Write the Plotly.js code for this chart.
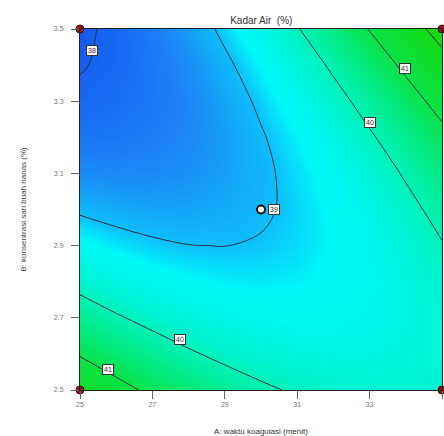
<!DOCTYPE html>
<html>
<head>
<meta charset="utf-8">
<script src="https://cdn.plot.ly/plotly-3.0.1.min.js"></script>
<style>html,body{margin:0;padding:0;background:#fff;}#chart{width:444px;height:436px;}</style>
</head>
<body>
<div id="chart"></div>
<script>
// A: waktu koagulasi (menit)
var waktu = [25, 26, 27, 28, 29, 30, 31, 32, 33, 34, 35];
// B: konsentrasi sari buah nanas (%)
var konsentrasi = [2.5, 2.6, 2.7, 2.8, 2.9, 3.0, 3.1, 3.2, 3.3, 3.4, 3.5];
// Kadar Air (%) estimated from the reference surface, rows = konsentrasi, cols = waktu
var kadarAir = [
  [41.625, 41.219, 40.863, 40.556, 40.299, 40.091, 39.933, 39.825, 39.766, 39.757, 39.797],
  [40.949, 40.605, 40.310, 40.065, 39.869, 39.723, 39.627, 39.580, 39.582, 39.635, 39.737],
  [40.343, 40.060, 39.827, 39.643, 39.509, 39.424, 39.389, 39.404, 39.468, 39.582, 39.745],
  [39.805, 39.584, 39.412, 39.290, 39.217, 39.194, 39.221, 39.297, 39.422, 39.598, 39.823],
  [39.337, 39.177, 39.066, 39.006, 38.995, 39.033, 39.121, 39.259, 39.446, 39.683, 39.969],
  [38.936, 38.838, 38.789, 38.790, 38.840, 38.940, 39.090, 39.289, 39.538, 39.836, 40.184],
  [38.604, 38.568, 38.580, 38.643, 38.755, 38.916, 39.127, 39.388, 39.698, 40.058, 40.468],
  [38.342, 38.366, 38.441, 38.565, 38.738, 38.961, 39.234, 39.556, 39.928, 40.349, 40.820],
  [38.147, 38.233, 38.369, 38.555, 38.789, 39.074, 39.408, 39.792, 40.225, 40.708, 41.241],
  [37.946, 38.169, 38.367, 38.613, 38.910, 39.256, 39.652, 40.097, 40.592, 41.136, 41.730],
  [37.880, 38.140, 38.433, 38.742, 39.099, 39.507, 39.964, 40.471, 41.028, 41.633, 42.289]
];
// design points
var cornerA = [25, 25, 35, 35];
var cornerB = [2.5, 3.5, 2.5, 3.5];
var centerA = [30];
var centerB = [3.0];
// contour label values
var labelText = ['38', '39', '40', '41', '40', '41'];
var xTicks = [25, 27, 29, 31, 33, 35];
var yTicks = [2.5, 2.7, 2.9, 3.1, 3.3, 3.5];

var zmin = 37.88, zmax = 42.29;
function s(v) { return (v - zmin) / (zmax - zmin); }
var heat = {
  type: 'heatmap', x: waktu, y: konsentrasi, z: kadarAir,
  zsmooth: 'best', zmin: zmin, zmax: zmax, showscale: false, hoverinfo: 'skip',
  colorscale: [
    [0, 'rgb(20,88,238)'],
    [s(38.5), 'rgb(28,128,246)'],
    [s(39.0), 'rgb(15,190,250)'],
    [s(39.25), 'rgb(0,248,250)'],
    [s(39.8), 'rgb(0,244,208)'],
    [s(40.2), 'rgb(0,238,160)'],
    [s(41.0), 'rgb(10,226,70)'],
    [1, 'rgb(22,215,10)']
  ]
};
var cont = {
  type: 'contour', x: waktu, y: konsentrasi, z: kadarAir,
  showscale: false, hoverinfo: 'skip',
  contours: {coloring: 'none', start: 38, end: 42, size: 1, showlabels: false},
  line: {color: '#1f3340', width: 1, smoothing: 1}
};
var corners = {
  type: 'scatter', mode: 'markers', x: cornerA, y: cornerB, cliponaxis: false,
  marker: {size: 8, color: '#8b1a1a', line: {color: '#4a0a0a', width: 1}}, hoverinfo: 'skip'
};
var center = {
  type: 'scatter', mode: 'markers', x: centerA, y: centerB, cliponaxis: false,
  marker: {size: 8, color: '#ffffff', line: {color: '#111111', width: 2}}, hoverinfo: 'skip'
};

var labelPos = [[25.34, 3.44], [30.36, 3.0], [33.02, 3.24], [33.99, 3.39], [27.76, 2.639], [25.76, 2.557]];
var annotations = labelText.map(function (t, i) {
  return {
    x: labelPos[i][0], y: labelPos[i][1], xref: 'x', yref: 'y', text: t, showarrow: false,
    font: {family: 'Liberation Sans, Arial, sans-serif', size: 7, color: '#4a2020'},
    bgcolor: '#ffffff', bordercolor: '#333333', borderwidth: 1, borderpad: 1
  };
});

var axisFont = {family: 'Liberation Sans, Arial, sans-serif', size: 7, color: '#777777'};
var layout = {
  width: 444, height: 436,
  margin: {l: 80, r: 2, t: 29, b: 46},
  paper_bgcolor: '#ffffff', plot_bgcolor: '#ffffff',
  showlegend: false,
  title: {text: 'Kadar Air  (%)', x: 0.5885, xanchor: 'center', y: 0.953, yanchor: 'middle',
          font: {family: 'Liberation Sans, Arial, sans-serif', size: 10, color: '#333333'}},
  xaxis: {
    range: [25, 35], tickvals: xTicks, ticktext: xTicks.map(String),
    ticks: 'outside', ticklen: 8, tickcolor: '#666666', tickwidth: 1,
    tickfont: axisFont, showgrid: false, zeroline: false,
    showline: true, linecolor: '#222222', linewidth: 1, mirror: true,
    title: {text: 'A: waktu koagulasi (menit)', standoff: 21,
            font: {family: 'Liberation Sans, Arial, sans-serif', size: 8, color: '#333333'}}
  },
  yaxis: {
    range: [2.5, 3.5], tickvals: yTicks, ticktext: yTicks.map(function (v) { return v.toFixed(1); }),
    ticks: 'outside', ticklen: 8, tickcolor: '#666666', tickwidth: 1,
    tickfont: axisFont, showgrid: false, zeroline: false, ticklabelstandoff: 6,
    showline: true, linecolor: '#222222', linewidth: 1, mirror: true,
    title: {text: 'B: konsentrasi sari buah nanas (%)', standoff: 26,
            font: {family: 'Liberation Sans, Arial, sans-serif', size: 8, color: '#444444'}}
  },
  annotations: annotations
};

Plotly.newPlot('chart', [heat, cont, corners, center], layout, {displayModeBar: false, staticPlot: true});
</script>
</body>
</html>
